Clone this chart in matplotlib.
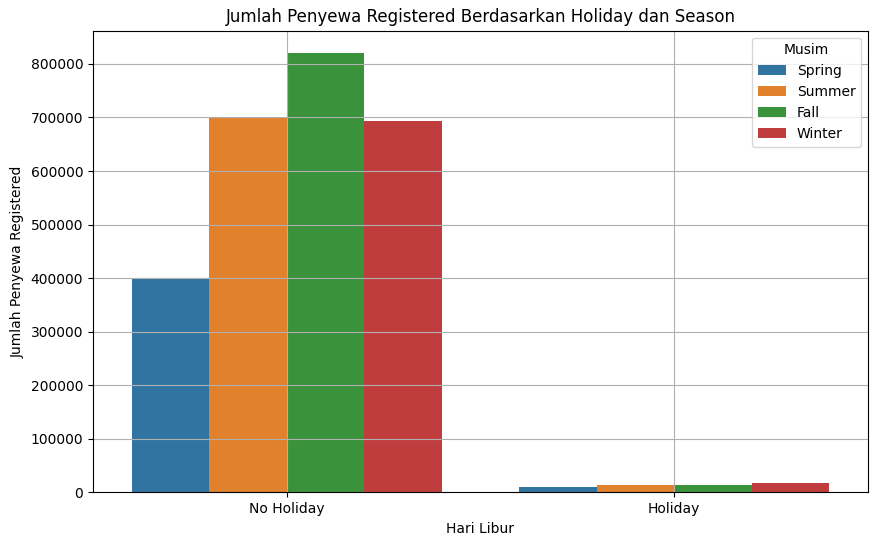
import matplotlib
matplotlib.use("Agg")
import matplotlib.pyplot as plt
import seaborn as sns
import pandas as pd

holiday_labels = ["No Holiday", "Holiday"]
seasons = ["Spring", "Summer", "Fall", "Winter"]
no_holiday_values = [399000, 701000, 821000, 694000]
holiday_values = [10000, 14500, 14500, 18000]

rows = []
for s, v in zip(seasons, no_holiday_values):
    rows.append({"holiday": holiday_labels[0], "season": s, "registered": v})
for s, v in zip(seasons, holiday_values):
    rows.append({"holiday": holiday_labels[1], "season": s, "registered": v})
df = pd.DataFrame(rows)

fig = plt.figure(figsize=(8.77, 5.45), dpi=100)
ax = fig.add_axes([0.106, 0.0967, 0.8837, 0.847])
sns.barplot(data=df, x="holiday", y="registered", hue="season",
            order=holiday_labels, hue_order=seasons, ax=ax, errorbar=None)
ax.set_title("Jumlah Penyewa Registered Berdasarkan Holiday dan Season")
ax.set_xlabel("Hari Libur")
ax.set_ylabel("Jumlah Penyewa Registered")
ax.legend(title="Musim", loc="upper right")
ax.grid(True)
fig.savefig("out.png", dpi=100)
